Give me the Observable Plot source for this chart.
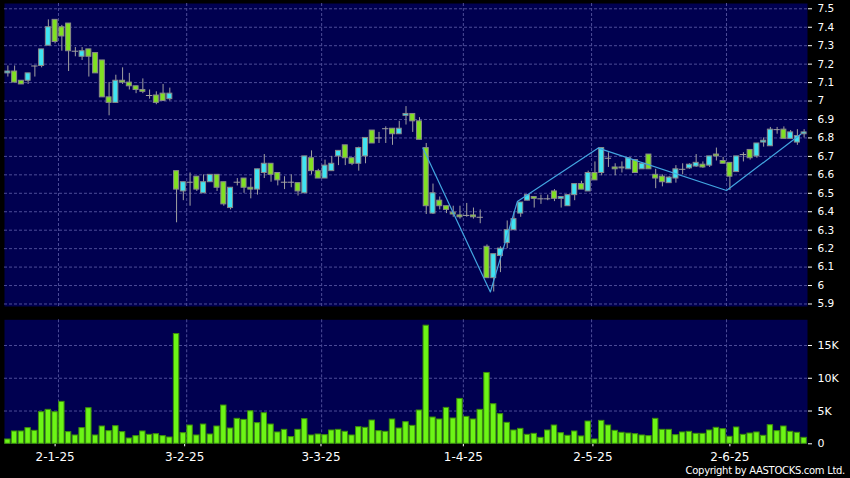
<!DOCTYPE html>
<html><head><meta charset="utf-8">
<script src="https://cdn.jsdelivr.net/npm/d3@7"></script>
<script src="https://cdn.jsdelivr.net/npm/@observablehq/plot@0.6"></script>
<style>
html,body{margin:0;padding:0;background:#000;}
#wrap{position:relative;width:850px;height:478px;background:#000;overflow:hidden;font-family:"DejaVu Sans",sans-serif;}
#price{position:absolute;left:0;top:0;}
#vol{position:absolute;left:0;top:310px;}
#copy{position:absolute;right:5px;top:465px;color:#fff;font-size:10px;letter-spacing:-0.3px;line-height:12px;white-space:nowrap;}
</style></head><body>
<div id="wrap"><div id="price"></div><div id="vol"></div><div id="copy">Copyright by AASTOCKS.com Ltd.</div></div>
<script>
// ---- data (one entry per trading day, oldest first) ----
const opens = [7.15,7.16,7.11,7.11,7.19,7.19,7.30,7.44,7.40,7.42,7.27,7.24,7.28,7.26,7.22,7.02,6.99,7.11,7.10,7.08,7.06,7.03,7.03,7.04,7.01,
6.62,6.51,6.56,6.59,6.50,6.56,6.60,6.56,6.42,6.56,6.58,6.53,6.52,6.61,6.66,6.61,6.56,6.56,6.555,6.50,6.69,6.62,6.58,6.62,6.70,
6.76,6.69,6.66,6.70,6.84,6.80,6.85,6.85,6.82,6.92,6.93,6.89,6.745,6.39,6.46,6.43,6.395,6.38,6.38,6.38,6.37,6.21,6.04,6.16,6.23,
6.30,6.39,6.46,6.48,6.47,6.47,6.51,6.47,6.43,6.49,6.55,6.51,6.61,6.61,6.69,6.64,6.635,6.63,6.68,6.63,6.71,6.60,6.59,6.555,6.58,
6.63,6.635,6.645,6.655,6.65,6.71,6.675,6.665,6.615,6.71,6.735,6.70,6.775,6.755,6.845,6.845,6.795,6.775,6.82];
const highs = [7.19,7.19,7.11,7.15,7.19,7.28,7.44,7.44,7.41,7.42,7.29,7.29,7.28,7.26,7.22,7.10,7.14,7.18,7.15,7.08,7.12,7.06,7.05,7.09,7.07,
6.62,6.56,6.61,6.59,6.60,6.60,6.60,6.56,6.53,6.58,6.58,6.58,6.63,6.71,6.66,6.61,6.59,6.60,6.555,6.70,6.73,6.63,6.68,6.70,6.73,
6.76,6.69,6.75,6.80,6.84,6.83,6.86,6.85,6.89,6.97,6.93,6.91,6.77,6.55,6.48,6.43,6.43,6.43,6.445,6.42,6.41,6.22,6.17,6.21,6.35,
6.40,6.45,6.49,6.48,6.49,6.49,6.52,6.48,6.49,6.55,6.565,6.62,6.67,6.745,6.72,6.66,6.67,6.69,6.68,6.665,6.71,6.63,6.60,6.59,6.65,
6.66,6.66,6.71,6.67,6.70,6.745,6.695,6.665,6.70,6.72,6.735,6.77,6.80,6.857,6.857,6.86,6.84,6.845,6.845];
const lows = [7.13,7.10,7.09,7.09,7.13,7.18,7.30,7.31,7.27,7.16,7.24,7.22,7.13,7.15,7.02,6.92,6.99,7.09,7.06,7.04,7.04,7.01,6.98,7.00,7.00,
6.34,6.46,6.43,6.51,6.50,6.56,6.51,6.43,6.41,6.54,6.50,6.47,6.49,6.58,6.56,6.54,6.52,6.53,6.485,6.50,6.60,6.58,6.58,6.62,6.65,
6.65,6.65,6.62,6.66,6.77,6.77,6.77,6.76,6.82,6.87,6.83,6.79,6.385,6.385,6.41,6.39,6.37,6.36,6.37,6.36,6.335,6.04,5.965,6.07,6.20,
6.30,6.37,6.46,6.42,6.44,6.46,6.455,6.42,6.43,6.46,6.52,6.51,6.57,6.595,6.64,6.595,6.61,6.63,6.61,6.63,6.63,6.525,6.535,6.555,6.555,
6.60,6.63,6.64,6.635,6.64,6.675,6.66,6.515,6.615,6.67,6.68,6.69,6.75,6.755,6.82,6.795,6.795,6.76,6.80];
const closes = [7.16,7.10,7.09,7.15,7.19,7.28,7.40,7.32,7.35,7.27,7.27,7.27,7.24,7.15,7.02,6.99,7.11,7.10,7.08,7.06,7.05,7.03,6.99,7.00,7.04,
6.52,6.56,6.56,6.52,6.56,6.60,6.53,6.44,6.53,6.56,6.53,6.52,6.63,6.66,6.60,6.57,6.56,6.56,6.51,6.70,6.62,6.58,6.65,6.66,6.73,
6.69,6.66,6.745,6.80,6.77,6.80,6.85,6.82,6.85,6.93,6.89,6.79,6.43,6.50,6.43,6.41,6.385,6.37,6.38,6.37,6.37,6.04,6.17,6.20,6.30,
6.36,6.45,6.49,6.47,6.47,6.47,6.47,6.48,6.49,6.55,6.52,6.61,6.57,6.745,6.69,6.63,6.64,6.69,6.61,6.66,6.63,6.58,6.56,6.585,6.63,
6.63,6.655,6.665,6.64,6.70,6.70,6.66,6.59,6.70,6.71,6.69,6.77,6.785,6.845,6.845,6.795,6.83,6.81,6.83];
const volumes = [660,1880,1880,2390,1980,4820,5180,4820,6400,1780,1270,2390,5430,1270,2640,1930,2690,1780,810,1170,
1880,1370,1470,1170,960,16750,1620,2790,1270,2940,1420,2640,5840,2330,3810,3650,4970,3150,4670,2940,
1730,2130,1020,2130,3760,1270,1420,1320,2030,2130,1830,1270,2540,2440,3550,1930,1830,3710,2330,3300,
2740,5080,18020,4010,3710,5480,3860,6850,4110,3710,5180,10810,6040,4520,3200,2030,2280,1370,1520,910,
2030,2790,1620,1220,1880,1120,3400,660,3500,2790,1980,1680,1570,1470,1270,1170,3810,2130,2130,1320,
1730,1830,1520,1520,2030,2440,2230,1070,2490,1370,1570,1730,1220,2840,1930,2640,1830,1680,910];
// zigzag overlay vertices (bar position, price)
const zigzagPos = [61.5, 71.5, 75.5, 87.5, 106.5, 117.5];
const zigzagVal = [6.745, 5.965, 6.455, 6.745, 6.515, 6.82];
// axes
const priceTicks = [5.9,6,6.1,6.2,6.3,6.4,6.5,6.6,6.7,6.8,6.9,7,7.1,7.2,7.3,7.4,7.5];
const volTicks = [0,5000,10000,15000];
const monthStartBars = [7, 26, 46, 67, 86, 106];
const xTickPos = [7, 26.2, 46.4, 67.5, 86.7, 107];
const xTickLabels = ["2-1-25","3-2-25","3-3-25","1-4-25","2-5-25","2-6-25"];

// ---- build ----
const rows = opens.map((o, i) => ({i, o, h: highs[i], l: lows[i], c: closes[i], v: volumes[i]}));
const up = rows.filter(d => d.c > d.o), down = rows.filter(d => d.c < d.o), flat = rows.filter(d => d.c === d.o);
const zigzag = zigzagPos.map((p, k) => ({p, v: zigzagVal[k]}));
const gridX = monthStartBars.map(b => b + 0.5);

const NAVY = "#000050", GRID = "#4c4c98", GREEN = "#80e022", CYAN = "#3fe4f2", WICK = "#a0a0a0", EDGE = "#8a8a8a";
const hw = 0.37, vw = 0.4;
const xDom = [-0.5, 118.5];

const price = Plot.plot({
  width: 850, height: 310, marginTop: 3, marginBottom: 4, marginLeft: 4, marginRight: 43,
  style: {background: "transparent", color: "#fff", fontFamily: "DejaVu Sans", fontSize: "10.5px"},
  x: {domain: xDom, axis: null},
  y: {domain: [5.8864, 7.5287], axis: "right", ticks: priceTicks, tickFormat: d => String(d), tickSize: 4, tickPadding: 6, label: null},
  marks: [
    Plot.frame({fill: NAVY, stroke: "none"}),
    Plot.ruleY(priceTicks, {y: d => d, stroke: GRID, strokeDasharray: "3,2"}),
    Plot.ruleX(gridX, {x: d => d, stroke: GRID, strokeDasharray: "3,2"}),
    Plot.ruleX(rows, {x: "i", y1: "l", y2: "h", stroke: WICK}),
    Plot.rect(down, {x1: d => d.i - hw, x2: d => d.i + hw, y1: "c", y2: "o", fill: GREEN, stroke: EDGE}),
    Plot.rect(up, {x1: d => d.i - hw, x2: d => d.i + hw, y1: "o", y2: "c", fill: CYAN, stroke: EDGE}),
    Plot.ruleY(flat, {y: "o", x1: d => d.i - hw - 0.1, x2: d => d.i + hw + 0.1, stroke: WICK}),
    Plot.line(zigzag, {x: "p", y: "v", stroke: "#42a5e0", strokeWidth: 1.2})
  ]
});
document.getElementById("price").appendChild(price);

const vol = Plot.plot({
  width: 850, height: 168, marginTop: 9.3, marginBottom: 34.7, marginLeft: 4, marginRight: 43,
  style: {background: "transparent", color: "#fff", fontFamily: "DejaVu Sans", fontSize: "11px"},
  x: {domain: xDom, ticks: xTickPos, tickFormat: d => xTickLabels[xTickPos.indexOf(d)], tickSize: 3, tickPadding: 6, label: null},
  y: {domain: [0, 18920], axis: "right", ticks: volTicks, tickFormat: d => d === 0 ? "0" : (d / 1000) + "K", tickSize: 4, tickPadding: 6, label: null},
  marks: [
    Plot.frame({fill: NAVY, stroke: "none"}),
    Plot.ruleY(volTicks.slice(1), {y: d => d, stroke: GRID, strokeDasharray: "3,2"}),
    Plot.ruleX(gridX, {x: d => d, stroke: GRID, strokeDasharray: "3,2"}),
    Plot.rect(rows, {x1: d => d.i - vw, x2: d => d.i + vw, y1: 0, y2: "v", fill: "#6cf516", stroke: "#3d8f0a"})
  ]
});
document.getElementById("vol").appendChild(vol);
d3.select(vol).selectAll('g[aria-label^="x-axis"] text').attr("font-size", "12px");
</script>
</body></html>
